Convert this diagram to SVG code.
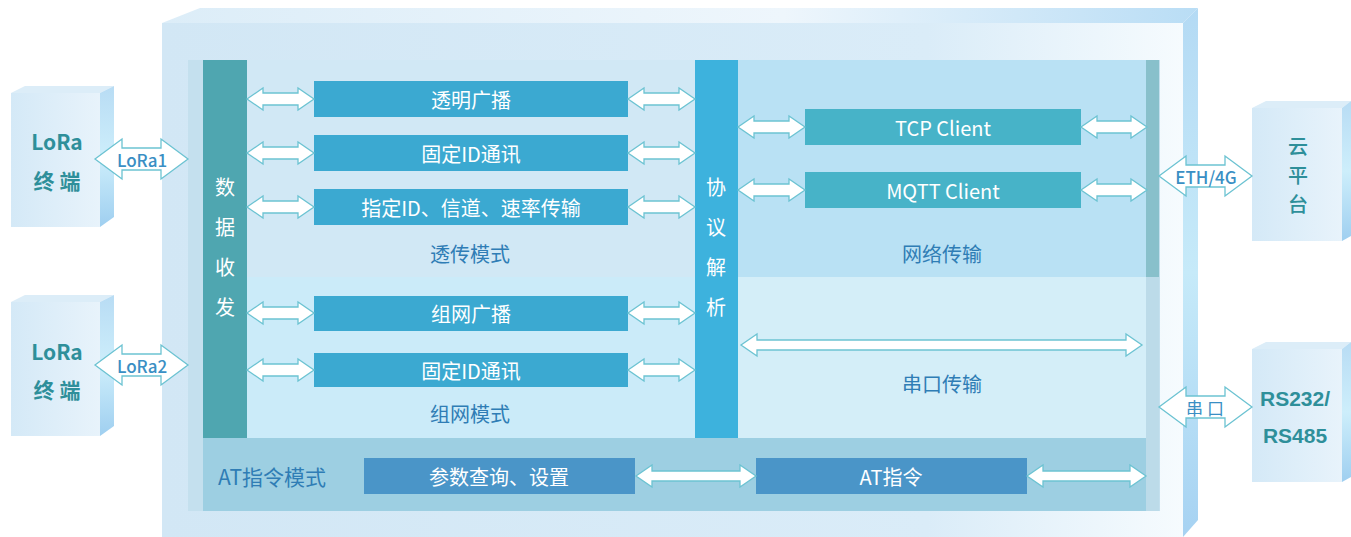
<svg xmlns="http://www.w3.org/2000/svg" width="1351" height="537" viewBox="0 0 1351 537">
<defs>
<linearGradient id="gFront" x1="0" y1="0" x2="1" y2="0">
<stop offset="0" stop-color="#d2e7f5"/>
<stop offset="0.75" stop-color="#daecf8"/>
<stop offset="1" stop-color="#f6fbfe"/>
</linearGradient>
<linearGradient id="gTop" x1="0" y1="0" x2="1" y2="0">
<stop offset="0" stop-color="#dcedf8"/>
<stop offset="0.6" stop-color="#eef6fc"/>
<stop offset="1" stop-color="#b9ddf5"/>
</linearGradient>
<linearGradient id="gSide" x1="0" y1="0" x2="0" y2="1">
<stop offset="0" stop-color="#b4daf4"/>
<stop offset="0.5" stop-color="#c6eaf9"/>
<stop offset="1" stop-color="#a6d2f2"/>
</linearGradient>
<linearGradient id="gBox" x1="0" y1="0" x2="1" y2="0">
<stop offset="0" stop-color="#d4e9f7"/>
<stop offset="1" stop-color="#e8f3fb"/>
</linearGradient>
<linearGradient id="gBoxSide" x1="0" y1="0" x2="0" y2="1">
<stop offset="0" stop-color="#b8dcf4"/>
<stop offset="0.5" stop-color="#cdeefb"/>
<stop offset="1" stop-color="#9fcff0"/>
</linearGradient>
</defs>
<style>
.arrow{fill:#ffffff;stroke:#6cc3d2;stroke-width:1.3;stroke-linejoin:miter}
.box{fill:#3ba9d1}
.net{fill:#47b3c8}
.at{fill:#4a95c8}
.wt{font-family:"Noto Sans CJK SC","Noto Sans",sans-serif;font-size:20px;fill:#ffffff;text-anchor:middle;dominant-baseline:central}
.lbl{font-family:"Noto Sans CJK SC","Noto Sans",sans-serif;font-size:20px;fill:#2f7db5;text-anchor:middle;dominant-baseline:central}
.dev{font-family:"Noto Sans CJK SC","Noto Sans",sans-serif;font-size:21px;font-weight:bold;fill:#2e8f9a;text-anchor:middle;dominant-baseline:central}
.devm{font-family:"Noto Sans CJK SC","Noto Sans",sans-serif;font-size:20px;font-weight:500;fill:#2e8f9a;text-anchor:middle;dominant-baseline:central}
.devr{font-family:"Liberation Sans",Arial,sans-serif;font-size:21px;font-weight:bold;fill:#2e8f9a;text-anchor:middle;dominant-baseline:central}
.alb{font-family:"Noto Sans CJK SC","Noto Sans",sans-serif;font-size:17px;font-weight:500;fill:#3a8fc4;text-anchor:middle;dominant-baseline:central}
</style>

<g id="module">
<polygon points="162,23 200,8 1198,8 1183,23" fill="url(#gTop)"/>
<polygon points="1183,23 1198,8 1198,520 1183,537" fill="url(#gSide)"/>
<rect x="162" y="23" width="1021" height="514" fill="url(#gFront)"/>
<rect x="188" y="60" width="972" height="451" fill="#c4e0ee"/>
</g>

<g id="region-transparent">
<rect x="247" y="60" width="448" height="217" fill="#d1e8f5"/>
<text class="lbl" x="470" y="253">透传模式</text>
</g>
<g id="region-mesh">
<rect x="247" y="277" width="448" height="161" fill="#cbebf9"/>
<text class="lbl" x="470" y="413">组网模式</text>
</g>
<g id="region-network">
<rect x="738" y="60" width="408" height="217" fill="#b9e1f4"/>
<rect x="1146" y="60" width="13" height="217" fill="#88c0cb"/>
<text class="lbl" x="942" y="253">网络传输</text>
</g>
<g id="region-serial">
<rect x="738" y="277" width="408" height="161" fill="#d4eef8"/>
<rect x="1146" y="277" width="13" height="234" fill="#bcdbe9"/>
<text class="lbl" x="942" y="383">串口传输</text>
</g>
<g id="region-at">
<rect x="203" y="438" width="943" height="73" fill="#9dcfe2"/>
<text class="lbl" x="272" y="476" style="font-size:21px">AT指令模式</text>
</g>

<g id="bar-data">
<rect x="203" y="60" width="44" height="378" fill="#4fa6b0"/>
<text class="wt" x="225" y="186">数</text>
<text class="wt" x="225" y="226">据</text>
<text class="wt" x="225" y="266">收</text>
<text class="wt" x="225" y="306">发</text>
</g>
<g id="bar-protocol">
<rect x="695" y="60" width="43" height="378" fill="#3db2dd"/>
<text class="wt" x="716" y="186">协</text>
<text class="wt" x="716" y="226">议</text>
<text class="wt" x="716" y="266">解</text>
<text class="wt" x="716" y="306">析</text>
</g>

<g id="node-broadcast"><rect class="box" x="314" y="81" width="314" height="36"/><text class="wt" x="471" y="99">透明广播</text></g>
<g id="node-fixedid1"><rect class="box" x="314" y="135" width="314" height="36"/><text class="wt" x="471" y="153">固定ID通讯</text></g>
<g id="node-specified"><rect class="box" x="314" y="189" width="314" height="36"/><text class="wt" x="471" y="207">指定ID、信道、速率传输</text></g>
<g id="node-meshbroadcast"><rect class="box" x="314" y="296" width="314" height="35"/><text class="wt" x="471" y="313">组网广播</text></g>
<g id="node-fixedid2"><rect class="box" x="314" y="353" width="314" height="34"/><text class="wt" x="471" y="370">固定ID通讯</text></g>
<g id="node-tcp"><rect class="net" x="805" y="109" width="276" height="36"/><text class="wt" x="943" y="127">TCP Client</text></g>
<g id="node-mqtt"><rect class="net" x="805" y="172" width="276" height="36"/><text class="wt" x="943" y="190">MQTT Client</text></g>
<g id="node-param"><rect class="at" x="364" y="458" width="271" height="36"/><text class="wt" x="499" y="476">参数查询、设置</text></g>
<g id="node-at"><rect class="at" x="756" y="458" width="271" height="36"/><text class="wt" x="891" y="476">AT指令</text></g>

<g id="dev-lora1">
<polygon points="11,93 25,86 114,86 100,93" fill="#dcedf8"/>
<polygon points="100,93 114,86 114,217 100,227" fill="url(#gBoxSide)"/>
<rect x="11" y="93" width="89" height="134" fill="url(#gBox)"/>
<text class="dev" x="57" y="141">LoRa</text>
<text class="dev" x="57" y="180">终 端</text>
</g>
<g id="dev-lora2">
<polygon points="11,302 25,295 114,295 100,302" fill="#dcedf8"/>
<polygon points="100,302 114,295 114,426 100,436" fill="url(#gBoxSide)"/>
<rect x="11" y="302" width="89" height="134" fill="url(#gBox)"/>
<text class="dev" x="57" y="351">LoRa</text>
<text class="dev" x="57" y="389">终 端</text>
</g>
<g id="dev-cloud">
<polygon points="1252,108 1266,101 1351,101 1342,108" fill="#dcedf8"/>
<polygon points="1342,108 1351,101 1351,236 1342,241" fill="url(#gBoxSide)"/>
<rect x="1252" y="108" width="90" height="133" fill="url(#gBox)"/>
<text class="devm" x="1298" y="145">云</text>
<text class="devm" x="1298" y="174">平</text>
<text class="devm" x="1298" y="203">台</text>
</g>
<g id="dev-rs">
<polygon points="1252,349 1266,342 1351,342 1342,349" fill="#dcedf8"/>
<polygon points="1342,349 1351,342 1351,477 1342,482" fill="url(#gBoxSide)"/>
<rect x="1252" y="349" width="90" height="133" fill="url(#gBox)"/>
<text class="devr" x="1295" y="398">RS232/</text>
<text class="devr" x="1295" y="435">RS485</text>
</g>

<g id="connectors">
<polygon class="arrow" points="247,99 263,88 263,93 298,93 298,88 314,99 298,110 298,105 263,105 263,110"/>
<polygon class="arrow" points="247,153 263,142 263,147 298,147 298,142 314,153 298,164 298,159 263,159 263,164"/>
<polygon class="arrow" points="247,207 263,196 263,201 298,201 298,196 314,207 298,218 298,213 263,213 263,218"/>
<polygon class="arrow" points="247,313 263,302 263,307 298,307 298,302 314,313 298,324 298,319 263,319 263,324"/>
<polygon class="arrow" points="247,370 263,359 263,364 298,364 298,359 314,370 298,381 298,376 263,376 263,381"/>
<polygon class="arrow" points="628,99 644,88 644,93 679,93 679,88 695,99 679,110 679,105 644,105 644,110"/>
<polygon class="arrow" points="628,153 644,142 644,147 679,147 679,142 695,153 679,164 679,159 644,159 644,164"/>
<polygon class="arrow" points="628,207 644,196 644,201 679,201 679,196 695,207 679,218 679,213 644,213 644,218"/>
<polygon class="arrow" points="628,313 644,302 644,307 679,307 679,302 695,313 679,324 679,319 644,319 644,324"/>
<polygon class="arrow" points="628,370 644,359 644,364 679,364 679,359 695,370 679,381 679,376 644,376 644,381"/>
<polygon class="arrow" points="738,127 754,116 754,121 789,121 789,116 805,127 789,138 789,133 754,133 754,138"/>
<polygon class="arrow" points="738,190 754,179 754,184 789,184 789,179 805,190 789,201 789,196 754,196 754,201"/>
<polygon class="arrow" points="1081,127 1097,116 1097,121 1131,121 1131,116 1147,127 1131,138 1131,133 1097,133 1097,138"/>
<polygon class="arrow" points="1081,190 1097,179 1097,184 1131,184 1131,179 1147,190 1131,201 1131,196 1097,196 1097,201"/>
<polygon class="arrow" points="741,345 757,334 757,340 1126,340 1126,334 1142,345 1126,356 1126,350 757,350 757,356"/>
<polygon class="arrow" points="636,476 652,465 652,471 740,471 740,465 756,476 740,487 740,481 652,481 652,487"/>
<polygon class="arrow" points="1027,476 1043,465 1043,471 1130,471 1130,465 1146,476 1130,487 1130,481 1043,481 1043,487"/>
<polygon class="arrow" points="95,159 122,139 122,148 161,148 161,139 188,159 161,179 161,170 122,170 122,179"/>
<polygon class="arrow" points="95,365 122,345 122,354 161,354 161,345 188,365 161,385 161,376 122,376 122,385"/>
<polygon class="arrow" points="1159,176 1186,156 1186,165 1225,165 1225,156 1252,176 1225,196 1225,187 1186,187 1186,196"/>
<polygon class="arrow" points="1159,407 1186,387 1186,396 1225,396 1225,387 1252,407 1225,427 1225,418 1186,418 1186,427"/>
<text class="alb" x="142" y="159">LoRa1</text>
<text class="alb" x="142" y="365">LoRa2</text>
<text class="alb" x="1206" y="176">ETH/4G</text>
<text class="alb" x="1205" y="407" style="font-weight:normal">串 口</text>
</g>
</svg>
